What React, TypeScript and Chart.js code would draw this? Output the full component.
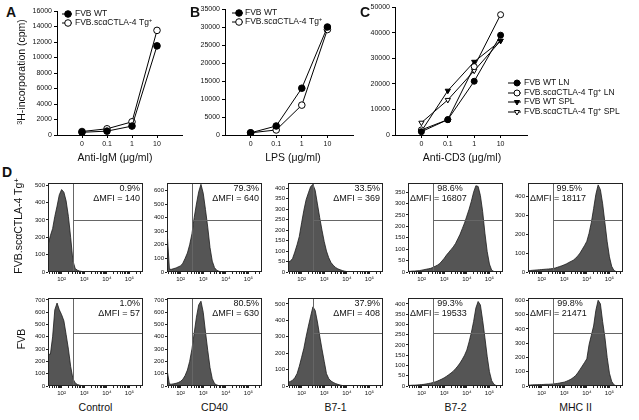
import React, { useEffect, useRef } from 'react';
import { Chart, registerables } from 'chart.js';

Chart.register(...registerables);

const FONT = "'Liberation Sans', Arial, Helvetica, sans-serif";
Chart.defaults.font.family = FONT;
Chart.defaults.color = '#111';

// ---------------- Panels A–C (proliferation, cpm) ----------------
const doseLabels = ['0', '0.1', '1', '10'];
const igmWT = [350, 500, 1150, 11500];
const igmTg = [450, 800, 1700, 13500];
const lpsWT = [600, 2500, 13000, 30000];
const lpsTg = [600, 1400, 8300, 29300];
const cd3WtLN = [1300, 6000, 21000, 39000];
const cd3TgLN = [2000, 6000, 26700, 47000];
const cd3WtSPL = [1500, 17300, 28600, 36800];
const cd3TgSPL = [4800, 13700, 25100, 36800];

// ---------------- Panel D (flow histograms) ----------------
const fluorBins = [
  25, 32, 40, 50, 63, 79, 100, 126, 158, 200,
  251, 316, 398, 501, 631, 794, 1000, 1259, 1585, 1995,
  2512, 3162, 3981, 5012, 6310, 7943, 10000, 12589, 15849, 19953,
  25119, 31623, 39811, 50119, 63096, 79433, 100000, 125893, 158489, 199526,
  251189, 316228, 398107,
];
const markerNames = ['Control', 'CD40', 'B7-1', 'B7-2', 'MHC II'];
const decadeLabels: Record<number, string> = { 100: '10²', 1000: '10³', 10000: '10⁴', 100000: '10⁵' };

const tgPct = ['0.9%', '79.3%', '33.5%', '98.6%', '99.5%'];
const tgMfi = [140, 640, 369, 16807, 18117];
const wtPct = ['1.0%', '80.5%', '37.9%', '99.3%', '99.8%'];
const wtMfi = [57, 630, 408, 19533, 21471];

const tgYMax = [513, 655, 425, 390, 470];
const tgYStep = [100, 100, 50, 50, 50];
const wtYMax = [716, 716, 536, 429, 616];
const wtYStep = [100, 100, 100, 50, 100];

const tgControl = [
  155, 210, 250, 320, 380, 445, 475, 460, 410, 320,
  200, 65, 20, 10, 5, 3, 2, 1, 1, 0,
  0, 0, 0, 0, 0, 0, 0, 0, 0, 0,
  0, 0, 0, 0, 0, 0, 0, 0, 0, 0,
  0, 0, 0,
];
const tgCD40 = [
  310, 20, 20, 25, 30, 38, 45, 65, 100, 140,
  200, 280, 400, 500, 590, 645, 580, 460, 330, 180,
  80, 32, 12, 5, 2, 0, 0, 0, 0, 0,
  0, 0, 0, 0, 0, 0, 0, 0, 0, 0,
  0, 0, 0,
];
const tgB71 = [
  48, 52, 65, 95, 130, 170, 235, 295, 345, 378,
  408, 418, 390, 325, 260, 200, 145, 100, 68, 45,
  32, 22, 15, 11, 7, 4, 2, 0, 0, 0,
  0, 0, 0, 0, 0, 0, 0, 0, 0, 0,
  0, 0, 0,
];
const tgB72 = [
  3, 3, 4, 4, 5, 6, 8, 10, 12, 14,
  16, 20, 25, 30, 37, 48, 60, 74, 86, 98,
  110, 125, 145, 165, 190, 215, 245, 275, 310, 350,
  378, 375, 335, 265, 170, 90, 35, 8, 2, 0,
  0, 0, 0,
];
const tgMHC = [
  6, 8, 9, 10, 11, 12, 13, 14, 15, 16,
  17, 18, 21, 25, 29, 33, 38, 43, 50, 56,
  62, 72, 85, 100, 120, 140, 162, 205, 262, 335,
  410, 460, 435, 360, 260, 160, 80, 30, 8, 2,
  0, 0, 0,
];
const wtControl = [
  255, 260, 400, 620, 675, 620, 580, 530, 420, 300,
  160, 60, 25, 12, 6, 3, 1, 0, 0, 0,
  0, 0, 0, 0, 0, 0, 0, 0, 0, 0,
  0, 0, 0, 0, 0, 0, 0, 0, 0, 0,
  0, 0, 0,
];
const wtCD40 = [
  135, 15, 15, 18, 22, 28, 38, 55, 85, 130,
  200, 300, 430, 560, 660, 690, 600, 440, 290, 150,
  60, 20, 8, 3, 0, 0, 0, 0, 0, 0,
  0, 0, 0, 0, 0, 0, 0, 0, 0, 0,
  0, 0, 0,
];
const wtB71 = [
  22, 28, 35, 50, 75, 120, 175, 230, 300, 365,
  425, 482, 460, 390, 305, 225, 150, 75, 45, 30,
  22, 15, 10, 6, 3, 0, 0, 0, 0, 0,
  0, 0, 0, 0, 0, 0, 0, 0, 0, 0,
  0, 0, 0,
];
const wtB72 = [
  3, 3, 4, 4, 5, 6, 7, 8, 10, 12,
  14, 17, 20, 24, 29, 34, 40, 47, 55, 63,
  72, 84, 97, 112, 130, 150, 175, 215, 260, 315,
  380, 412, 395, 320, 235, 145, 70, 26, 8, 2,
  0, 0, 0,
];
const wtMHC = [
  5, 7, 8, 9, 9, 10, 10, 11, 12, 12,
  13, 14, 16, 18, 21, 24, 27, 33, 40, 48,
  59, 72, 92, 116, 140, 165, 190, 290, 355, 420,
  530, 600, 575, 450, 340, 200, 90, 32, 8, 2,
  0, 0, 0,
];
const tgHists = [tgControl, tgCD40, tgB71, tgB72, tgMHC];
const wtHists = [wtControl, wtCD40, wtB71, wtB72, wtMHC];

// ---------------- layout / style constants ----------------
const GATE_X = 330;
const colLeft = [48, 167, 288, 408, 528];
const HIST_W = 95;
const ROW1 = { y: 183, h: 89, frac: 0.585 };
const ROW2 = { y: 298, h: 88, frac: 0.6 };

type Seg = { t: string; sup?: boolean };
const wtSegs = (suffix: string): Seg[] => [{ t: 'FVB WT' + suffix }];
const tgSegs = (suffix: string): Seg[] =>
  suffix ? [{ t: 'FVB.scαCTLA-4 Tg' }, { t: '+', sup: true }, { t: suffix }] : [{ t: 'FVB.scαCTLA-4 Tg' }, { t: '+', sup: true }];

function drawSegs(ctx: any, segs: Seg[], x: number, y: number, size: number) {
  let cx = x;
  ctx.textAlign = 'left';
  ctx.textBaseline = 'middle';
  for (const s of segs) {
    const fs = s.sup ? size * 0.7 : size;
    ctx.font = `${fs}px ${FONT}`;
    ctx.fillText(s.t, cx, s.sup ? y - size * 0.35 : y);
    cx += ctx.measureText(s.t).width;
  }
}

function drawMarker(ctx: any, style: string, filled: boolean, x: number, y: number, r: number) {
  ctx.beginPath();
  if (style === 'circle') {
    ctx.arc(x, y, r, 0, Math.PI * 2);
  } else {
    for (let k = 0; k < 3; k++) {
      const a = Math.PI + (k * 2 * Math.PI) / 3;
      const px = x + Math.sin(a) * r;
      const py = y - Math.cos(a) * r;
      if (k === 0) ctx.moveTo(px, py);
      else ctx.lineTo(px, py);
    }
    ctx.closePath();
  }
  ctx.fillStyle = filled ? '#000' : '#fff';
  ctx.fill();
  ctx.lineWidth = 1;
  ctx.strokeStyle = '#000';
  ctx.stroke();
}

type Rect = { x: number; y: number; w: number; h: number };
type Pad = { l: number; t: number; r: number; b: number };

function ChartCanvas({ plot, pad, build }: { plot: Rect; pad: Pad; build: (ox: number, oy: number) => any }) {
  const ref = useRef<HTMLCanvasElement>(null);
  const ox = plot.x - pad.l;
  const oy = plot.y - pad.t;
  const cw = plot.w + pad.l + pad.r;
  const ch = plot.h + pad.t + pad.b;
  useEffect(() => {
    const chart = new Chart(ref.current as HTMLCanvasElement, build(ox, oy));
    return () => chart.destroy();
  }, []);
  return (
    <canvas
      ref={ref}
      width={cw}
      height={ch}
      style={{ position: 'absolute', left: ox, top: oy, width: cw, height: ch, display: 'block' }}
    />
  );
}

type Series = { values: number[]; style: 'circle' | 'triangle'; filled: boolean; label: Seg[] };
type LegendSpec = { x0: number; x1: number; mx: number; tx: number; rows: number[]; size: number };

function lineBuilder(series: Series[], yMax: number, yStep: number, pad: Pad, legend: LegendSpec, r: number) {
  return (ox: number, oy: number) => ({
    type: 'line',
    data: {
      datasets: series.map((s) => ({
        data: s.values.map((v, i) => ({ x: i, y: v })),
        borderColor: '#000',
        borderWidth: 1,
        tension: 0,
        pointStyle: s.style,
        rotation: s.style === 'triangle' ? 180 : 0,
        pointRadius: r,
        pointBackgroundColor: s.filled ? '#000' : '#fff',
        pointBorderColor: '#000',
        pointBorderWidth: 1,
      })),
    },
    options: {
      responsive: false,
      animation: false,
      devicePixelRatio: 1,
      layout: { padding: { left: 0, top: pad.t, right: pad.r, bottom: 0 } },
      plugins: { legend: { display: false }, tooltip: { enabled: false } },
      scales: {
        x: {
          type: 'linear',
          min: -1,
          max: 4,
          afterBuildTicks: (ax: any) => {
            ax.ticks = doseLabels.map((_, i) => ({ value: i }));
          },
          ticks: {
            autoSkip: false,
            maxRotation: 0,
            padding: 2,
            font: { size: 7 },
            color: '#111',
            callback: (v: any) => doseLabels[v] ?? '',
          },
          grid: { display: true, drawOnChartArea: false, drawTicks: true, tickLength: 3, color: '#000', lineWidth: 1 },
          border: { display: true, color: '#000', width: 1 },
          afterFit: (s: any) => {
            s.height = pad.b;
          },
        },
        y: {
          type: 'linear',
          min: 0,
          max: yMax,
          ticks: {
            stepSize: yStep,
            includeBounds: false,
            padding: 2,
            font: { size: 7 },
            color: '#111',
            callback: (v: any) => String(v),
          },
          grid: { display: true, drawOnChartArea: false, drawTicks: true, tickLength: 3, color: '#000', lineWidth: 1 },
          border: { display: true, color: '#000', width: 1 },
          afterFit: (s: any) => {
            s.width = pad.l;
          },
        },
      },
    },
    plugins: [
      {
        id: 'legendDraw',
        afterDraw(chart: any) {
          const ctx = chart.ctx;
          ctx.save();
          series.forEach((s, i) => {
            const y = legend.rows[i] - oy;
            ctx.beginPath();
            ctx.strokeStyle = '#000';
            ctx.lineWidth = 1;
            ctx.moveTo(legend.x0 - ox, y);
            ctx.lineTo(legend.x1 - ox, y);
            ctx.stroke();
            drawMarker(ctx, s.style, s.filled, legend.mx - ox, y, r);
            ctx.fillStyle = '#111';
            drawSegs(ctx, s.label, legend.tx - ox, y, legend.size);
          });
          ctx.restore();
        },
      },
    ],
  });
}

const logTickValues: number[] = [];
for (let e = 1; e <= 5; e++) {
  for (let m = 1; m <= 9; m++) {
    const v = m * Math.pow(10, e);
    if (v >= fluorBins[0] && v <= fluorBins[fluorBins.length - 1]) logTickValues.push(v);
  }
}

function histBuilder(vals: number[], yMax: number, yStep: number, pct: string, mfi: number, align: 'right' | 'left', frac: number, pad: Pad) {
  return () => ({
    type: 'line',
    data: {
      datasets: [
        {
          data: fluorBins.map((x, i) => ({ x, y: vals[i] })),
          fill: 'origin',
          backgroundColor: '#555555',
          borderColor: '#1c1c1c',
          borderWidth: 0.8,
          pointRadius: 0,
          tension: 0,
        },
      ],
    },
    options: {
      responsive: false,
      animation: false,
      devicePixelRatio: 1,
      layout: { padding: { left: 0, top: pad.t, right: pad.r, bottom: 0 } },
      plugins: { legend: { display: false }, tooltip: { enabled: false } },
      scales: {
        x: {
          type: 'logarithmic',
          min: fluorBins[0],
          max: fluorBins[fluorBins.length - 1],
          afterBuildTicks: (ax: any) => {
            ax.ticks = logTickValues.map((v) => ({ value: v }));
          },
          ticks: {
            autoSkip: false,
            maxRotation: 0,
            padding: 2,
            font: { size: 6 },
            color: '#111',
            callback: (v: any) => decadeLabels[v] ?? '',
          },
          grid: { display: true, drawOnChartArea: false, drawTicks: true, tickLength: 2, color: '#222', lineWidth: 1 },
          border: { display: false },
          afterFit: (s: any) => {
            s.height = pad.b;
          },
        },
        y: {
          type: 'linear',
          min: 0,
          max: yMax,
          ticks: {
            stepSize: yStep,
            includeBounds: false,
            padding: 1,
            font: { size: 6 },
            color: '#111',
            callback: (v: any) => String(v),
          },
          grid: { display: true, drawOnChartArea: false, drawTicks: true, tickLength: 2, color: '#222', lineWidth: 1 },
          border: { display: false },
          afterFit: (s: any) => {
            s.width = pad.l;
          },
        },
      },
    },
    plugins: [
      {
        id: 'gate',
        afterDatasetsDraw(chart: any) {
          const { ctx, chartArea: a, scales } = chart;
          ctx.save();
          const gx = Math.round(scales.x.getPixelForValue(GATE_X)) + 0.5;
          const gy = Math.round(a.bottom - (a.bottom - a.top) * frac) + 0.5;
          ctx.strokeStyle = '#666';
          ctx.lineWidth = 1;
          ctx.beginPath();
          ctx.moveTo(gx, a.top);
          ctx.lineTo(gx, a.bottom);
          ctx.moveTo(gx, gy);
          ctx.lineTo(a.right, gy);
          ctx.stroke();
          ctx.strokeStyle = '#222';
          ctx.strokeRect(a.left + 0.5, a.top + 0.5, a.right - a.left - 1, a.bottom - a.top - 1);
          ctx.fillStyle = '#111';
          ctx.font = `9px ${FONT}`;
          ctx.textBaseline = 'middle';
          const m = 'ΔMFI = ' + mfi;
          if (align === 'right') {
            ctx.textAlign = 'right';
            ctx.fillText(pct, a.right - 3, a.top + 6);
            ctx.fillText(m, a.right - 3, a.top + 16);
          } else {
            const w = ctx.measureText(m).width;
            ctx.textAlign = 'left';
            ctx.fillText(m, a.left + 2, a.top + 16);
            ctx.textAlign = 'right';
            ctx.fillText(pct, a.left + 2 + w - 4, a.top + 6);
          }
          ctx.restore();
        },
      },
    ],
  });
}

function Txt({ x, y, size, bold, rotate, children }: any) {
  return (
    <div
      style={{
        position: 'absolute',
        left: x,
        top: y,
        transform: `translate(-50%, -50%)${rotate ? ' rotate(-90deg)' : ''}`,
        fontSize: size,
        fontWeight: bold ? 700 : 400,
        fontFamily: FONT,
        whiteSpace: 'nowrap',
        lineHeight: 1,
        color: '#111',
      }}
    >
      {children}
    </div>
  );
}

const Sup = ({ children }: any) => (
  <span style={{ fontSize: '0.7em', position: 'relative', top: '-0.45em' }}>{children}</span>
);

export default function App() {
  const linePad = (r: number): Pad => ({ l: 40, t: 10, r, b: 24 });
  const histPad: Pad = { l: 20, t: 8, r: 4, b: 14 };

  const seriesA: Series[] = [
    { values: igmWT, style: 'circle', filled: true, label: wtSegs('') },
    { values: igmTg, style: 'circle', filled: false, label: tgSegs('') },
  ];
  const seriesB: Series[] = [
    { values: lpsWT, style: 'circle', filled: true, label: wtSegs('') },
    { values: lpsTg, style: 'circle', filled: false, label: tgSegs('') },
  ];
  const seriesC: Series[] = [
    { values: cd3WtLN, style: 'circle', filled: true, label: wtSegs(' LN') },
    { values: cd3TgLN, style: 'circle', filled: false, label: tgSegs(' LN') },
    { values: cd3WtSPL, style: 'triangle', filled: true, label: wtSegs(' SPL') },
    { values: cd3TgSPL, style: 'triangle', filled: false, label: tgSegs(' SPL') },
  ];

  return (
    <div
      style={{
        position: 'absolute',
        left: 0,
        top: 0,
        width: 639,
        height: 420,
        background: '#fff',
        overflow: 'hidden',
        fontFamily: FONT,
      }}
    >
      <ChartCanvas
        plot={{ x: 57, y: 11, w: 125, h: 124 }}
        pad={linePad(8)}
        build={lineBuilder(seriesA, 16000, 2000, linePad(8), { x0: 62, x1: 72, mx: 68, tx: 75, rows: [14, 23], size: 8.5 }, 3.3)}
      />
      <ChartCanvas
        plot={{ x: 225, y: 9, w: 128, h: 126 }}
        pad={linePad(8)}
        build={lineBuilder(seriesB, 35000, 5000, linePad(8), { x0: 232, x1: 243, mx: 239, tx: 245, rows: [13, 22], size: 8.5 }, 3.3)}
      />
      <ChartCanvas
        plot={{ x: 395, y: 7, w: 132, h: 128 }}
        pad={linePad(112)}
        build={lineBuilder(seriesC, 50000, 10000, linePad(112), { x0: 508, x1: 521, mx: 517, tx: 524, rows: [83, 93, 102, 112], size: 8.5 }, 3)}
      />

      {markerNames.map((name, i) => (
        <ChartCanvas
          key={'tg' + i}
          plot={{ x: colLeft[i], y: ROW1.y, w: HIST_W, h: ROW1.h }}
          pad={histPad}
          build={histBuilder(tgHists[i], tgYMax[i], tgYStep[i], tgPct[i], tgMfi[i], i < 3 ? 'right' : 'left', ROW1.frac, histPad)}
        />
      ))}
      {markerNames.map((name, i) => (
        <ChartCanvas
          key={'wt' + i}
          plot={{ x: colLeft[i], y: ROW2.y, w: HIST_W, h: ROW2.h }}
          pad={histPad}
          build={histBuilder(wtHists[i], wtYMax[i], wtYStep[i], wtPct[i], wtMfi[i], i < 3 ? 'right' : 'left', ROW2.frac, histPad)}
        />
      ))}

      <Txt x={11} y={12} size={14} bold>A</Txt>
      <Txt x={195} y={12} size={14} bold>B</Txt>
      <Txt x={365} y={12} size={14} bold>C</Txt>
      <Txt x={7} y={172} size={14} bold>D</Txt>

      <Txt x={21} y={72} size={10.5} rotate>
        <Sup>3</Sup>H-incorporation (cpm)
      </Txt>
      <Txt x={115} y={157} size={10.5}>Anti-IgM (μg/ml)</Txt>
      <Txt x={293} y={157} size={10.5}>LPS (μg/ml)</Txt>
      <Txt x={462} y={157} size={10.5}>Anti-CD3 (μg/ml)</Txt>

      <Txt x={18} y={226} size={10.5} rotate>
        FVB.scαCTLA-4 Tg<Sup>+</Sup>
      </Txt>
      <Txt x={21} y={339} size={10.5} rotate>FVB</Txt>

      {markerNames.map((name, i) => (
        <Txt key={'lab' + i} x={colLeft[i] + HIST_W / 2} y={407} size={10.5}>
          {name}
        </Txt>
      ))}
    </div>
  );
}
